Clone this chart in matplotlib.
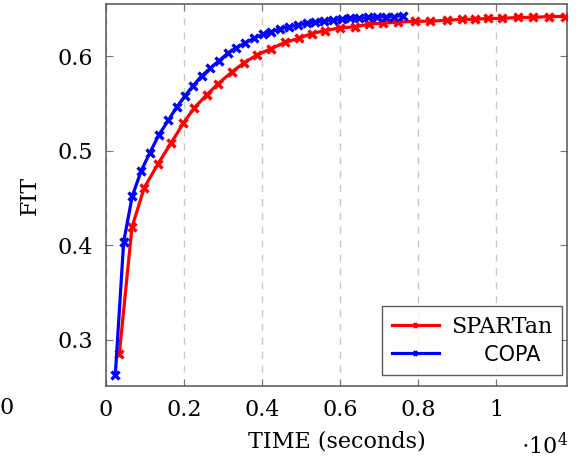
import numpy as np
import matplotlib.pyplot as plt

# SPARTan run (time in seconds, FIT)
spartan_time = [342, 667, 983, 1333, 1667, 1983, 2256, 2581, 2880, 3222, 3538,
                3863, 4231, 4590, 4949, 5273, 5615, 6000, 6385, 6752, 7111, 7496,
                7923, 8308, 8735, 9120, 9462, 9803, 10162, 10572, 10957, 11367, 11769]
spartan_fit = [0.285, 0.419, 0.461, 0.486, 0.508, 0.529, 0.545, 0.559, 0.571, 0.583,
               0.593, 0.601, 0.608, 0.6145, 0.619, 0.624, 0.627, 0.630, 0.631, 0.634,
               0.635, 0.636, 0.637, 0.637, 0.638, 0.639, 0.639, 0.640, 0.640, 0.641,
               0.641, 0.642, 0.642]

# COPA run
copa_time = [240, 454, 675, 906, 1128, 1359, 1598, 1812, 2026, 2239, 2453, 2667, 2897,
             3120, 3345, 3570, 3795, 4020, 4245, 4470, 4695, 4920, 5145, 5370, 5595,
             5820, 6045, 6270, 6495, 6720, 6945, 7170, 7395, 7615]
copa_fit = [0.263, 0.4035, 0.452, 0.479, 0.498, 0.517, 0.532, 0.546, 0.558, 0.569,
            0.579, 0.587, 0.595, 0.603, 0.609, 0.614, 0.619, 0.623, 0.626, 0.629,
            0.631, 0.633, 0.635, 0.636, 0.637, 0.638, 0.639, 0.640, 0.640, 0.641,
            0.641, 0.642, 0.642, 0.643]

xticks = [0, 0.2, 0.4, 0.6, 0.8, 1.0]
xtick_labels = ['0', '0.2', '0.4', '0.6', '0.8', '1']
yticks = [0.3, 0.4, 0.5, 0.6]

plt.rcParams['font.family'] = 'DejaVu Serif'

fig = plt.figure(figsize=(5.79, 4.68), dpi=100)
ax = fig.add_axes([0.183, 0.175, 0.796, 0.816])

ax.plot(np.array(spartan_time) / 1e4, spartan_fit, color='red', lw=2.3,
        marker='x', ms=6, mew=2.4, label='SPARTan', zorder=3)
ax.plot(np.array(copa_time) / 1e4, copa_fit, color='blue', lw=2.3,
        marker='x', ms=6, mew=2.4, label='     COPA', zorder=4)

ax.set_xlim(0, 1.182)
ax.set_ylim(0.251, 0.655)
ax.set_xticks(xticks)
ax.set_xticklabels(xtick_labels)
ax.set_yticks(yticks)
ax.set_yticklabels(['0.3', '0.4', '0.5', '0.6'])
ax.tick_params(direction='in', length=5, width=0.8, color='#777777',
               labelsize=16, top=True, right=True, pad=9)
ax.grid(axis='x', linestyle=(0, (5, 5)), color='#c8c8c8', lw=1)
for s in ax.spines.values():
    s.set_color('#555555')
    s.set_linewidth(1.1)

ax.set_xlabel('TIME (seconds)', fontsize=16, labelpad=7)
ax.set_ylabel('FIT', fontsize=16, labelpad=12)

# stray zero label left of the axis and the scale factor
fig.text(7 / 579, 1 - 408 / 468, '0', fontsize=16, ha='center', va='center')
fig.text(545 / 579, 1 - 446 / 468, r'$\cdot10^4$', fontsize=16, ha='center',
         va='center', math_fontfamily='dejavuserif')

leg = ax.legend(loc='lower right', fontsize=16, frameon=True, fancybox=False,
                edgecolor='#333333', handlelength=2.1, markerscale=0.5,
                borderpad=0.45, labelspacing=0.3, handletextpad=0.55,
                borderaxespad=0.0, bbox_to_anchor=(0.99, 0.03))
leg.get_frame().set_linewidth(1.0)
leg.get_texts()[1].set_family('DejaVu Sans')
leg.get_texts()[1].set_fontsize(15)

fig.savefig('out.png', dpi=100)
